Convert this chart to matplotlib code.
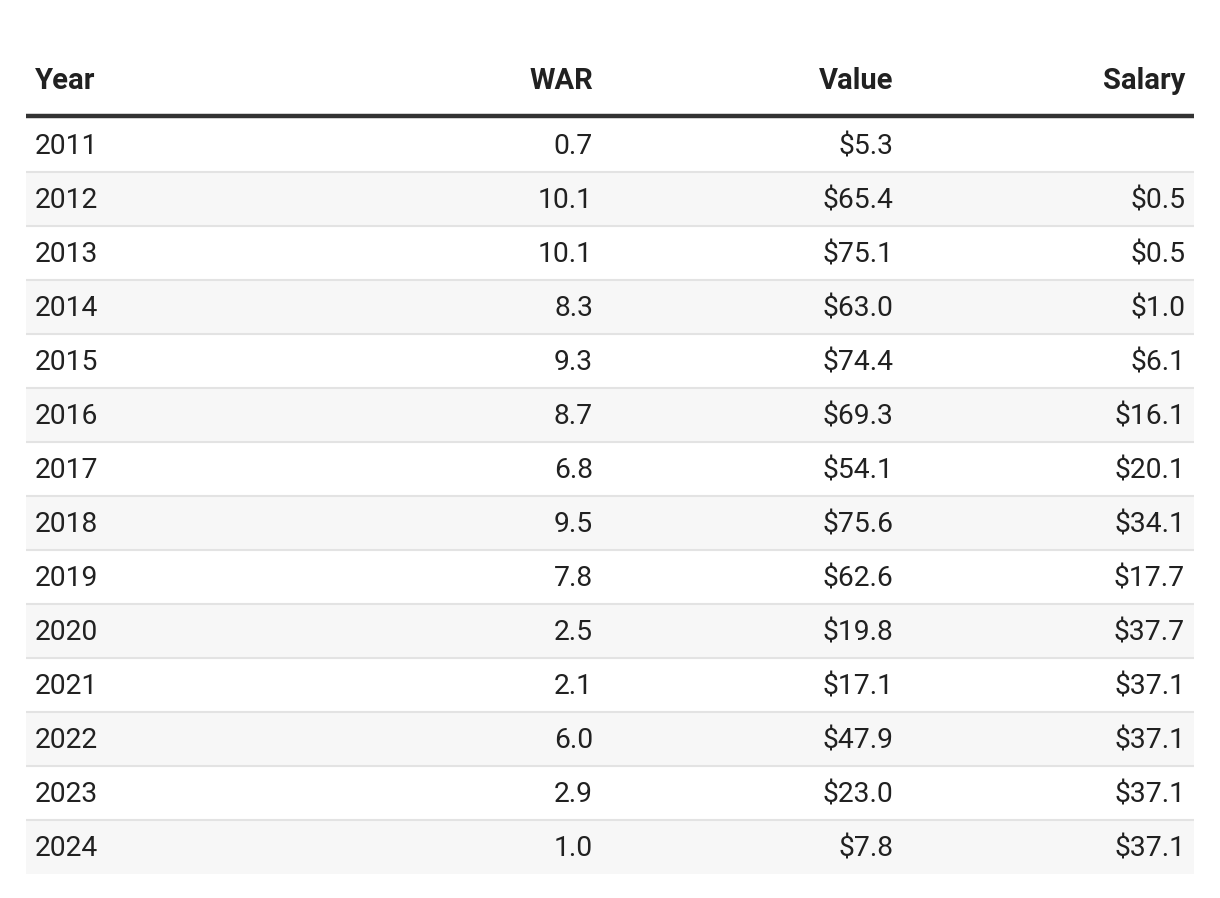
import matplotlib.pyplot as plt
from matplotlib.patches import Rectangle

years = ["2011", "2012", "2013", "2014", "2015", "2016", "2017",
         "2018", "2019", "2020", "2021", "2022", "2023", "2024"]
war = ["0.7", "10.1", "10.1", "8.3", "9.3", "8.7", "6.8",
       "9.5", "7.8", "2.5", "2.1", "6.0", "2.9", "1.0"]
value = ["$5.3", "$65.4", "$75.1", "$63.0", "$74.4", "$69.3", "$54.1",
         "$75.6", "$62.6", "$19.8", "$17.1", "$47.9", "$23.0", "$7.8"]
salary = ["", "$0.5", "$0.5", "$1.0", "$6.1", "$16.1", "$20.1",
          "$34.1", "$17.7", "$37.7", "$37.1", "$37.1", "$37.1", "$37.1"]
headers = ["Year", "WAR", "Value", "Salary"]

plt.rcParams['font.family'] = ['Roboto', 'DejaVu Sans']

fig = plt.figure(figsize=(12.2, 8.98), dpi=100)
ax = fig.add_axes([0, 0, 1, 1])
ax.set_xlim(0, 1220)
ax.set_ylim(898, 0)
ax.axis('off')

left, right = 26, 1194
top = 118
row_h = 54
txt = '#212121'
fs = 20.3

# column anchors: (x, alignment)
cols = [(35, 'left'), (593, 'right'), (893, 'right'), (1185, 'right')]

for (x, ha), h in zip(cols, headers):
    ax.text(x, 81, h, ha=ha, va='center', fontsize=21, fontweight='bold', color=txt)

ax.plot([left, right], [116, 116], color='#333333', lw=3.2, solid_capstyle='butt')

for i, row in enumerate(zip(years, war, value, salary)):
    y0 = top + i * row_h
    if i % 2 == 1:
        ax.add_patch(Rectangle((left, y0), right - left, row_h, color='#f7f7f7', lw=0))
    if i > 0:
        ax.plot([left, right], [y0, y0], color='#e3e3e3', lw=1.5, solid_capstyle='butt')
    for (x, ha), s in zip(cols, row):
        ax.text(x, y0 + row_h / 2 + 2, s, ha=ha, va='center', fontsize=fs, color=txt)

fig.savefig('out.png', dpi=100, facecolor='white')
